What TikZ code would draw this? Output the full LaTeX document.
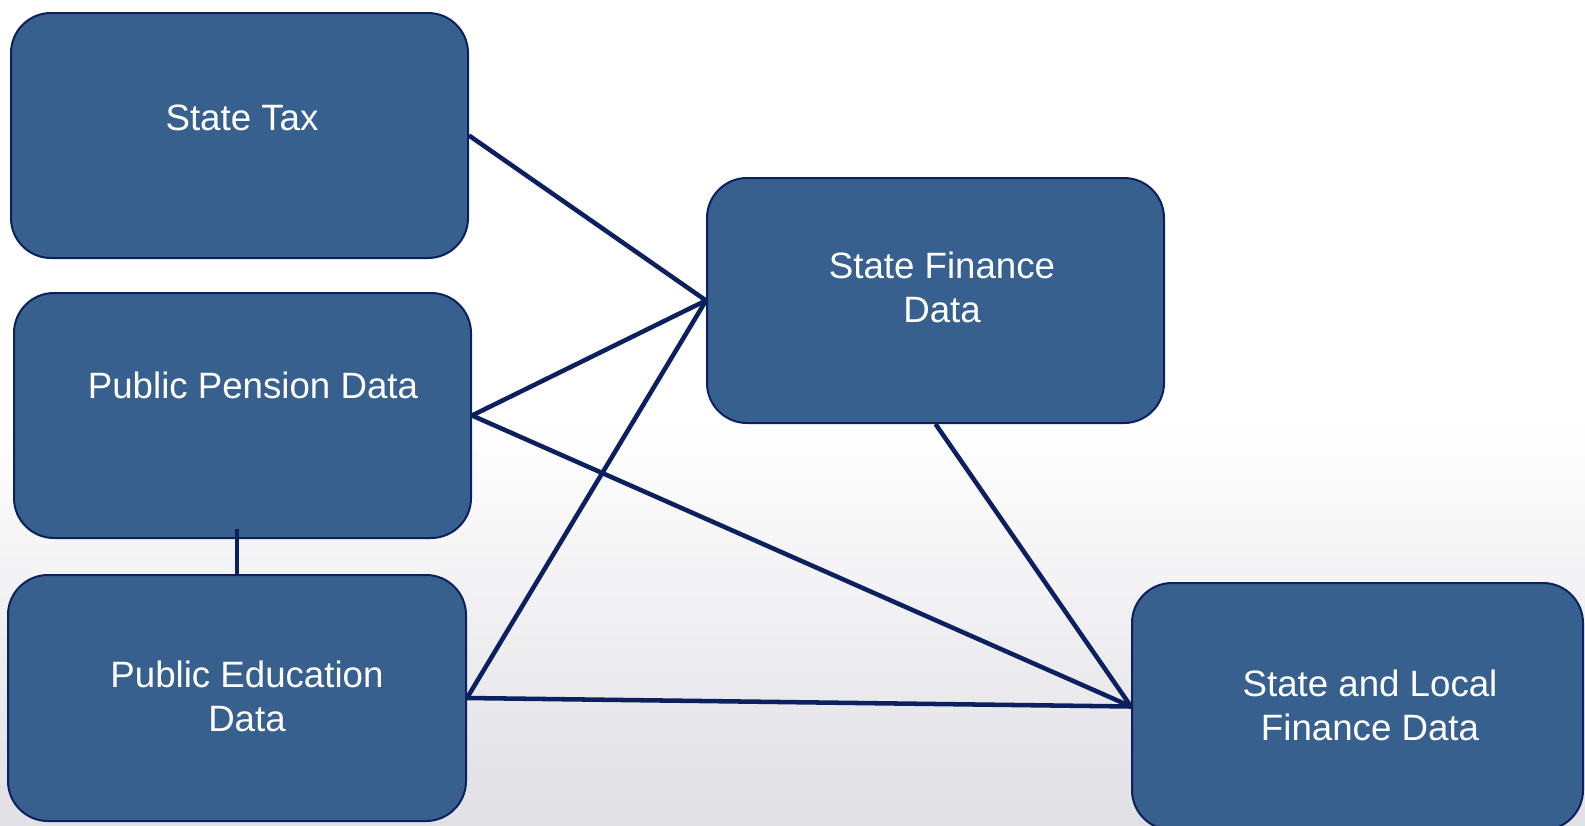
\documentclass[tikz,border=0pt]{standalone}
\usepackage{fontspec}
\setmainfont{Liberation Sans}
\usetikzlibrary{calc}
\definecolor{boxfill}{RGB}{55,96,143}
\definecolor{navy}{RGB}{12,32,96}
\definecolor{bggray}{RGB}{224,224,229}
\begin{document}
\begin{tikzpicture}[x=0.75pt,y=-0.75pt,
  box/.style={draw=navy,line width=1.5pt,fill=boxfill,rounded corners=30pt,inner sep=0pt,
    minimum width=342.75pt,minimum height=183.75pt},
  lbl/.style={text=white,align=center,font=\fontsize{27.5pt}{33pt}\selectfont,inner sep=0pt},
  link/.style={draw=navy,line width=3.4pt}]
\useasboundingbox (0,0) rectangle (1585,825);
\fill[white] (0,0) rectangle (1585,420);
\shade[top color=white,bottom color=bggray] (0,419) rectangle (1585,825);
\node[box] (st) at (239.5,135.5) {};
\node[box] (pen) at (242.5,415.5) {};
\node[box,minimum width=343.5pt,minimum height=184.5pt] (edu) at (237,698) {};
\node[box] (sfd) at (935.5,300.5) {};
\node[box,minimum width=338.25pt,minimum height=185.25pt] (slf) at (1357.5,706.5) {};
\node[lbl] (tst) at (242,118) {State Tax};
\node[lbl] (tpen) at (253,385) {Public Pension Data};
\node[lbl] (tedu) at (247,696.5) {Public Education\\Data};
\node[lbl] (tsfd) at (942,287.5) {State Finance\\Data};
\node[lbl] (tslf) at (1370,705) {State and Local\\Finance Data};
\draw[link] (st.east) -- (sfd.west);
\draw[link] (pen.east) -- (sfd.west);
\draw[link] (edu.east) -- (sfd.west);
\draw[link] (pen.east) -- (slf.west);
\draw[link] (edu.east) -- (slf.west);
\draw[link] (sfd.south) -- (slf.west);
\draw[link] (edu.north) -- ($(edu.north |- pen.south)+(0,-10)$);
\end{tikzpicture}
\end{document}
